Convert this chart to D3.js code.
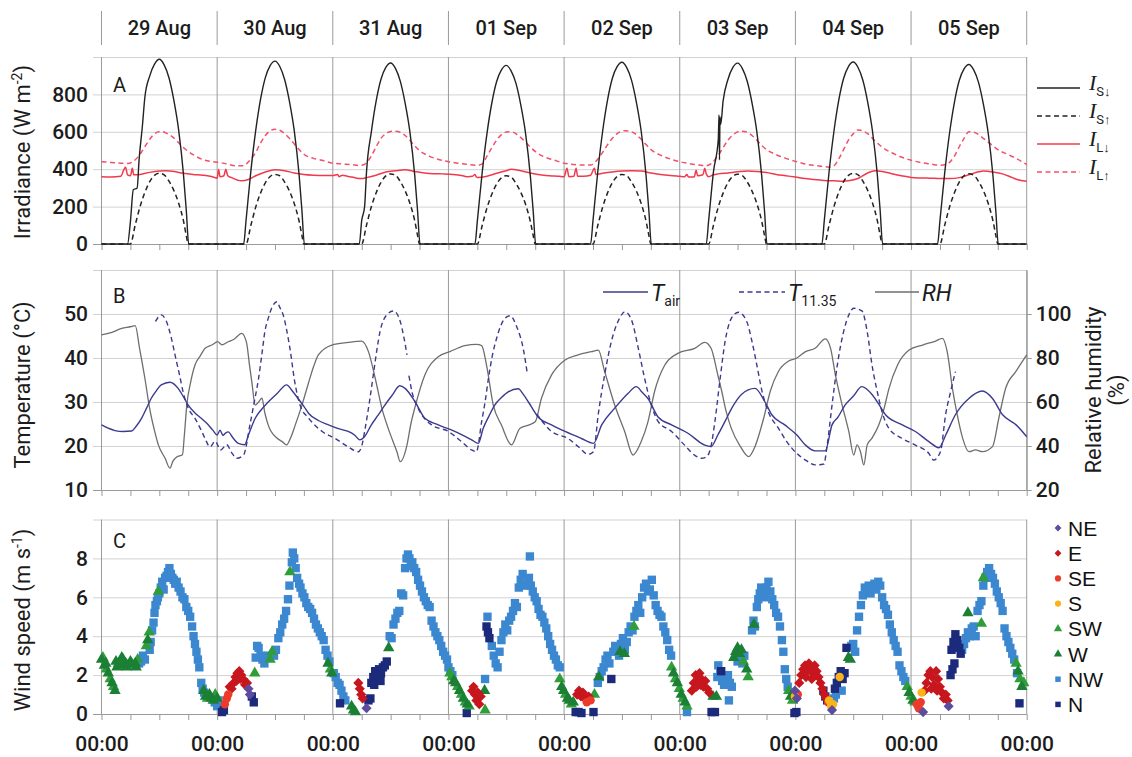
<!DOCTYPE html>
<html><head><meta charset="utf-8">
<script src="https://cdn.jsdelivr.net/npm/d3@7"></script>
<style>body{margin:0;background:#fff}svg{display:block}</style>
</head><body>
<svg id="chart" width="1132" height="757"></svg>
<script>
// ---------------- DATA ----------------
const dayLabels = ["29 Aug","30 Aug","31 Aug","01 Sep","02 Sep","03 Sep","04 Sep","05 Sep"];
const ticksA = [0,200,400,600,800];
const ticksB = [10,20,30,40,50];
const ticksRH = [20,40,60,80,100];
const ticksC = [0,2,4,6,8];

// hours since 29 Aug 00:00, W m-2
const isDown = [[0,0],[5.4,0],[6.0,120],[6.6,290],[7.4,300],[7.8,450],[8.5,635],[9,785],[10,898],[11,962],[12,988],[13,958],[14,889],[15,771],[16,612],[17,375],[17.6,178],[18.1,0],
[29.5,0],[30,127],[31,391],[32,606],[33,773],[34,890],[35,954],[36,978],[37,949],[38,880],[39,763],[40,606],[41,372],[41.6,176],[42.1,0],
[53.5,0],[54,126],[54.6,200],[55,387],[56,600],[57,765],[58,881],[59,944],[60,968],[61,939],[62,871],[63,755],[64,600],[65,368],[65.6,174],[66.1,0],
[77.5,0],[78,124],[79,382],[80,592],[81,754],[82,869],[83,931],[84,955],[85,926],[86,860],[87,745],[88,592],[89,363],[89.6,172],[90.1,0],
[101.5,0],[102,126],[103,389],[104,603],[105,768],[106,885],[107,948],[108,972],[109,943],[110,875],[111,758],[112,603],[113,369],[113.6,175],[114.1,0],
[125.5,0],[126,126],[127,387],[128,560],[128.15,690],[128.25,450],[128.35,680],[128.5,640],[129,765],[130,880],[131,943],[132,967],[133,938],[134,870],[135,754],[136,600],[137,367],[137.6,174],[138.1,0],
[149.5,0],[150,126],[151,389],[152,603],[153,769],[154,885],[155,949],[156,973],[157,944],[158,876],[159,759],[160,603],[161,370],[161.6,175],[162.1,0],
[173.5,0],[174,125],[175,384],[176,595],[177,758],[178,874],[179,936],[180,960],[181,931],[182,864],[183,749],[184,595],[185,365],[185.6,173],[186.1,0],[192,0]];

const isUp = [[0,0],[6,0],[7,102],[8,200],[9,276],[10,333],[11,367],[12,378],[13,370],[14,336],[15,287],[16,219],[17,125],[17.6,45],[18,0],
[30,0],[31,100],[32,197],[33,272],[34,327],[35,361],[36,372],[37,365],[38,331],[39,283],[40,216],[41,123],[41.6,45],[42,0],
[54,0],[55,101],[56,199],[57,274],[58,330],[59,364],[60,375],[61,368],[62,334],[63,285],[64,218],[65,124],[65.6,45],[66,0],
[78,0],[79,99],[80,193],[81,266],[82,321],[83,354],[84,365],[85,358],[86,325],[87,277],[88,212],[89,120],[89.6,44],[90,0],
[102,0],[103,100],[104,197],[105,272],[106,327],[107,361],[108,372],[109,365],[110,331],[111,283],[112,216],[113,123],[113.6,45],[114,0],
[126,0],[127,101],[128,198],[129,272],[130,328],[131,362],[132,373],[133,366],[134,332],[135,283],[136,216],[137,123],[137.6,45],[138,0],
[150,0],[151,102],[152,200],[153,276],[154,333],[155,367],[156,378],[157,370],[158,336],[159,287],[160,219],[161,125],[161.6,45],[162,0],
[174,0],[175,102],[176,199],[177,274],[178,331],[179,365],[180,376],[181,368],[182,335],[183,286],[184,218],[185,124],[185.6,45],[186,0],[192,0]];

const ilDown = [[0,360],[2,358],[4,362],[4.6,395],[5,410],[5.4,370],[6,365],[6.4,405],[6.7,370],[8,372],[10,383],[12,390],[13.5,392],[15,388],[17,378],[19,372],[21,368],[23,360],[24,352],[24.3,398],[24.6,360],[25.4,365],[25.8,400],[26.2,365],[27,355],[29,338],[30.5,345],[32,365],[34,385],[36,397],[38,392],[40,380],[42,372],[44,368],[46,366],[48,366],[49,372],[49.3,360],[50,368],[51,362],[52,358],[53,352],[54,350],[55,355],[57,368],[59,385],[61,392],[63,397],[65,388],[67,380],[69,376],[71,375],[73,372],[75,365],[76,360],[77,362],[77.5,372],[77.8,358],[78,355],[80,362],[82,378],[84,392],[85,400],[87,392],[89,380],[91,370],[93,365],[95,362],[96,360],[96.6,405],[97,360],[98,362],[98.5,405],[98.8,362],[100,362],[101.5,368],[102.3,405],[102.6,372],[104,378],[106,385],[108,390],[110,392],[112,390],[114,380],[116,372],[118,366],[120,362],[121,360],[121.5,372],[121.8,358],[123,358],[123.4,395],[123.7,365],[124.8,370],[125.2,405],[125.5,375],[126,360],[127,370],[128,375],[130,380],[132,386],[134,390],[136,388],[138,382],[140,372],[142,365],[144,358],[146,350],[148,345],[150,340],[152,338],[154,336],[155,338],[157,350],[159,380],[160.5,392],[162,388],[164,376],[166,365],[168,356],[170,353],[172,352],[174,350],[176,350],[178,355],[180,370],[182,386],[183,390],[185,385],[187,375],[189,355],[190,345],[192,335]];

const ilUp = [[0,440],[2,436],[4,432],[5.5,430],[6.5,440],[8,480],[9,520],[10,560],[11,590],[12,600],[12.7,600],[13.5,592],[14.6,576],[15.5,555],[16.7,523],[18,495],[19,478],[21,452],[22.5,442],[24.5,436],[26,428],[28,418],[29.5,418],[30.5,440],[32,490],[33,540],[34,580],[35,605],[36,613],[37,608],[38,590],[39,565],[40,535],[41,505],[42,480],[44,458],[46,446],[48,432],[50,428],[52,424],[53.5,420],[54.5,425],[56,470],[57,520],[58,565],[59,590],[60.5,603],[62,598],[63,580],[64,555],[65,525],[66,500],[68,470],[70,452],[72,440],[74,432],[76,426],[78,421],[79,428],[80,470],[81,515],[82,555],[83,585],[84.4,600],[85.5,597],[86.5,580],[88,545],[89,518],[90,495],[92,465],[94,448],[96,432],[98,425],[100,422],[101.5,422],[102.5,440],[104,490],[105,530],[106,565],[107,590],[108.7,606],[110,600],[111,585],[112,560],[113,532],[114,505],[116,475],[118,455],[120,440],[122,430],[124,422],[125.3,418],[126.5,430],[128,475],[129,515],[130,555],[131,582],[132.6,603],[134,598],[135,580],[136,555],[137,528],[138,505],[140,478],[142,458],[144,442],[146,428],[148,420],[150,414],[151,411],[152,418],[153,455],[154,505],[155,555],[156,590],[157,610],[158,605],[159,590],[160,565],[161,540],[162,518],[164,488],[166,465],[168,448],[170,436],[172,428],[174,421],[175.5,428],[177,470],[178,520],[179,565],[180,600],[181,598],[182,585],[183,565],[184,545],[185,525],[186,505],[188,480],[190,455],[192,425]];

// degC
const tAir = [[0,24.8],[1.5,24],[2.8,23.5],[4.5,23.3],[6.2,23.4],[7.2,24.5],[8.3,26.3],[9.3,28.5],[10.3,30.8],[11.4,32.6],[12.4,33.9],[14.2,34.5],[15.9,33.1],[17,31.2],[18,29.3],[19.4,27.5],[20.7,26.3],[22,25],[23.1,23.6],[24,22.5],[24.6,23.6],[25.2,22.4],[25.8,23],[26.3,23.2],[27.3,21.8],[28.4,20.6],[29.7,20.3],[30.5,22.5],[31.9,26.3],[33.2,28.3],[34.6,30],[36.5,32],[38.4,33.9],[39.6,32.5],[40.8,30.8],[42,29],[43,27.4],[45,25.8],[47.1,24.8],[49,24],[51.2,23.3],[52.5,22.5],[53.6,21.4],[54.5,22],[56,24.8],[57.4,27],[58.8,29.3],[60.3,31.5],[61.9,33.7],[63,33.1],[65.1,30],[67.1,26.3],[69.9,24.8],[73.3,23.3],[76.8,21.4],[78.2,20.6],[79.2,24],[80.4,26.8],[81.6,29.3],[83,31],[84.4,32.3],[86.5,33],[87.5,31.8],[88.6,30],[90.6,26.6],[93.4,24.8],[96.2,23.3],[99.6,21.7],[102.1,20.6],[103.8,24.8],[106.5,28.6],[109.3,32],[111,33.5],[112.2,32.2],[113.4,30.8],[115.5,26.6],[118.3,24.8],[121.7,22.9],[125.2,20.2],[126.5,19.9],[127.9,22.5],[129.4,25.6],[130.8,28.6],[132.8,31.7],[135.6,33.1],[137.7,30],[139.1,27.1],[141.8,24.8],[144.3,22.5],[146.1,20.2],[148.1,18.9],[150.2,18.9],[151.6,24.8],[152.8,26.5],[154.3,29.3],[156,31.3],[157.8,33.5],[159.9,31.7],[161.3,29.5],[162.7,27.1],[166.2,24.8],[168.9,23.3],[171.7,21],[173.8,19.6],[175.2,22.5],[177.2,27.1],[180,30.8],[182.8,32.5],[184.9,30.8],[187,27.1],[189.8,24.8],[192,22.1]];

// null marks a gap in the record
const t1135 = [[11.2,48.3],[12.4,49.8],[13.4,48.5],[14.5,44.5],[15.3,40.5],[16.2,36.1],[17,32],[18,28.6],[19.4,26.3],[20.5,24],[21.5,21.7],[22.5,19.8],[23.6,21.1],[24.7,19.1],[26,20.3],[27,18.5],[28.1,17.2],[29.5,18],[30.8,24.8],[31.7,30],[32.6,35.4],[33.3,41],[33.9,46],[34.6,49],[35.3,51.3],[36.4,52.8],[37,51.5],[37.7,49.8],[38.4,46.5],[39.1,42.2],[40.1,34.6],[41.2,29.3],[43,26.3],[45.8,23.3],[48.5,21.7],[51.2,19.8],[53.3,18.7],[54,20],[54.7,23.9],[55.6,30],[56.4,36.1],[57.1,41.5],[57.8,46],[59.2,49.8],[60.6,50.7],[62,48.3],[62.7,45],[63.4,40.7],
[63.6,null],
[63.8,36],[64.5,32],[65.7,28.6],[68.5,24.8],[72,23.3],[74.7,21],[76.8,19.1],[77.8,18.7],[78.9,25.6],[79.6,30],[80.3,35.4],[81.1,40.5],[82,44.5],[83.7,49],[84.8,49.6],[86.2,47],[87.6,41.7],[88.3,36.9],
[89.3,null],
[90.3,27.3],[93.4,23.3],[96.8,21.7],[98.9,19.9],[101,18.1],[102.1,18.7],[103.1,27.3],[104.4,36.1],[105.8,43.7],[107.5,49],[108.6,50.5],[110,48.6],[111.4,42.2],[112.7,35.4],[114.1,29.3],[115.5,25.6],[118.3,23.3],[121,20.2],[123.1,17.9],[124.5,17.2],[125.5,17.5],[126.5,20],[127.3,25.6],[128.3,34.6],[129.4,43.7],[130.7,49],[132.2,50.4],[133.9,48.3],[135,43.7],[136,38.4],[137.1,32.3],[138.4,27.7],[140.5,24],[142.2,21],[144.3,18.3],[146.1,16.8],[148.1,15.7],[149.9,15.9],[150.6,20.2],[151.6,29.3],[152.7,38.4],[154,46],[155.1,49.8],[156.1,51.3],[157.8,50.7],[158.9,46],[159.9,38.4],[161,32.3],[162,27.7],[163.4,24],[166.2,21.7],[168.9,20.2],[171.7,18.3],[172.7,16.8],[174.1,18.7],[175.2,27.3],[176.2,32.3],[177.2,36.9]];

// %
const rh = [[0,90.5],[2,91.5],[4.2,93.5],[6,94.2],[7,94.7],[7.9,84.4],[9,70.8],[10,57],[11,47],[11.8,40.5],[13.2,34.4],[14.2,29.9],[14.8,33],[15.6,35],[16.8,36],[17.2,45],[17.7,58.6],[18.5,69],[19.4,76.8],[20.5,81],[21.5,84.4],[23,86],[24.1,87.4],[25,86],[26.3,87.4],[27.5,88.5],[29.1,91.2],[30.1,87],[30.7,77],[31.2,69],[31.9,58.6],[32.6,60],[33.3,61.7],[33.9,55],[34.6,49.5],[36.4,43.6],[37.5,42],[38.4,40.5],[39.3,44],[40.2,49.5],[41.6,58.6],[43,69],[44,76],[45,81.4],[47.8,85.9],[51.2,87.1],[54,87.7],[55.4,82.9],[56.8,70.8],[58.2,57],[59.5,48],[61.3,37.4],[62,32.9],[63.4,40.5],[64.2,50],[65.1,58],[67.1,72.3],[69.9,80.6],[72.3,82.9],[75.4,85.6],[77.8,86.2],[78.9,85.6],[79.9,76.8],[81.3,58.6],[83,49.5],[85.1,40.5],[86.8,48],[88.6,49.5],[90,51],[91.3,61.7],[93.4,72.3],[96.2,79.1],[98.9,81.4],[101.7,82.9],[103.1,83.6],[104.4,74],[106.5,58.6],[108.6,46.4],[110.3,35.9],[112,42],[113.4,51],[114.8,65],[116.9,76.8],[119.6,82.1],[123.1,84.4],[125.2,87.1],[126.5,84.4],[127.9,72.3],[128.7,65],[129.6,56],[130.7,48],[132.6,39.7],[134.3,35.2],[135.6,39.7],[137.4,52.5],[138.8,65],[140.5,74],[142.6,78.6],[144.3,80],[146.1,82.9],[148.1,84.4],[150.2,88.7],[151.3,84.4],[152.3,72.3],[153.7,58.6],[155.1,46.4],[156.1,35.9],[156.8,40.5],[157.5,37.4],[158.2,31.4],[158.9,40.5],[159.9,43.6],[161.3,49.5],[162.4,57],[163.4,66],[165.2,76.8],[167.6,83.6],[170.4,85.9],[173.1,87.7],[174.5,88.9],[175.5,82.9],[176.6,66],[177.6,54],[178.7,43.6],[180,37.4],[181.4,38.2],[182.8,37.4],[184.9,39.7],[186.2,52.5],[187.6,66],[189.8,74],[192,81.4]];

// wind speed (m s-1) by direction: [hour, speed]
const windNE = [[30.5,1.3],[30.8,1.0],[55.0,0.3],[143.9,1.2],[144.3,0.8],[151.6,0.2],[170.5,0.1],[175.8,0.4]];
const windE = [[26.6,1.4],[27.0,1.3],[27.4,1.6],[27.8,1.9],[28.2,2.1],[28.6,2.2],[29.0,2.0],[29.4,1.8],[29.8,1.5],[30.2,1.6],[28.0,1.7],[28.8,1.8],[53.3,1.6],[53.6,1.3],[53.9,1.0],[54.2,0.8],[76.9,1.2],[77.2,1.4],[77.5,1.0],[77.8,0.7],[78.1,1.1],[78.4,0.5],[78.7,0.9],[98.7,1.0],[99.1,1.2],[99.5,0.9],[99.9,1.1],[100.3,0.8],[101.1,0.9],[122.5,1.2],[122.9,1.6],[123.3,2.0],[123.7,1.7],[124.1,2.1],[124.5,1.8],[124.9,1.4],[125.3,1.7],[125.7,1.3],[126.1,1.1],[123.5,1.4],[124.3,1.5],[144.8,1.6],[145.2,2.0],[145.6,2.3],[146.0,2.5],[146.4,2.2],[146.8,2.6],[147.2,2.4],[147.6,2.1],[148.0,2.5],[148.4,2.2],[148.8,1.9],[149.2,1.6],[149.6,1.3],[150.0,1.0],[150.4,0.8],[146.2,1.9],[147.4,1.8],[170.8,1.2],[171.2,1.6],[171.6,2.0],[172.0,2.2],[172.4,1.9],[172.8,1.5],[173.2,2.2],[173.6,1.8],[174.0,1.4],[174.4,1.1],[174.8,0.8],[175.2,1.0],[175.6,0.7],[172.2,1.3],[173.4,1.2]];
const windSE = [[25.6,0.5],[26.0,0.8],[26.3,1.0],[100.7,0.6],[101.5,0.7],[144.5,1.0],[150.8,0.6],[169.2,0.5],[169.6,0.3],[170.0,0.6]];
const windS = [[143.9,0.9],[151.0,0.7],[151.4,0.4],[151.8,0.5],[153.2,1.9],[170.2,1.1]];
const windSW = [[0.3,2.9],[1.0,2.3],[1.8,1.8],[2.5,1.4],[3.5,2.6],[4.5,2.8],[5.5,2.5],[6.5,2.5],[7.5,2.8],[9.3,3.5],[9.9,4.2],[11.8,6.3],[22.0,0.8],[23.6,1.0],[31.8,2.1],[35.0,2.8],[35.4,3.2],[39.1,7.3],[47.5,2.3],[72.3,2.1],[72.7,1.9],[73.9,1.4],[74.7,1.0],[75.5,0.6],[76.3,0.4],[79.6,0.2],[95.1,1.8],[96.3,1.0],[97.5,0.5],[102.3,1.0],[110.5,4.5],[118.3,2.4],[119.1,1.8],[119.9,1.3],[120.7,0.8],[121.5,0.4],[133.2,2.7],[134.2,1.9],[142.6,1.2],[143.4,0.7],[167.2,1.4],[168.0,0.9],[168.8,0.6],[182.6,4.65],[183.0,7.0],[189.8,2.6],[190.6,1.8],[191.4,1.6]];
const windW = [[0,2.8],[0.6,2.5],[0.9,2.6],[1.4,2.1],[2.2,1.6],[2.8,1.2],[3.0,2.7],[3.2,2.4],[4.0,2.5],[4.2,2.9],[5.0,2.6],[5.2,2.4],[6.0,2.7],[6.2,2.6],[7.0,2.6],[7.2,2.4],[9.6,3.8],[21.2,1.2],[21.6,0.9],[22.4,1.0],[22.8,0.8],[23.2,0.7],[24.0,0.8],[47.0,2.6],[47.8,2.1],[51.9,0.4],[52.3,0.2],[52.7,0.1],[59.6,3.4],[73.1,1.7],[73.5,1.6],[74.3,1.2],[75.1,0.8],[75.9,0.5],[79.5,1.2],[95.5,1.4],[95.9,1.2],[96.7,0.8],[97.1,0.7],[97.9,0.6],[103.2,1.9],[107.6,3.2],[108.5,3.1],[118.7,2.1],[119.5,1.6],[120.3,1.0],[121.1,0.6],[126.9,0.9],[127.6,0.9],[131.2,2.9],[131.6,3.2],[132.0,3.4],[132.4,3.1],[132.8,3.3],[133.9,2.3],[135.4,4.6],[143.0,0.9],[155.0,2.9],[155.4,2.8],[167.6,1.1],[168.4,0.7],[179.8,5.2],[190.2,2.2],[191.0,1.4]];
const windNW = [[7.8,2.6],[8.2,2.7],[8.6,3.0],[9.0,2.8],[10.0,3.3],[10.2,3.7],[10.5,4.3],[10.8,4.7],[11.0,5.2],[11.2,5.6],[11.5,5.8],[11.7,6.0],[12.0,6.2],[12.3,6.5],[12.6,6.8],[12.9,6.4],[13.2,7.0],[13.5,7.1],[13.8,7.3],[14.1,7.5],[14.4,7.2],[14.7,7.0],[15.0,6.9],[15.3,6.7],[15.6,6.8],[16.0,6.5],[16.4,6.3],[16.8,6.0],[17.2,5.9],[17.6,5.5],[18.0,5.3],[18.4,5.0],[18.8,4.5],[19.1,4.0],[19.4,3.6],[19.7,3.2],[20.0,2.8],[20.3,2.4],[20.7,1.6],[21.0,1.3],[21.3,1.1],[23.5,0.6],[24.0,0.4],[24.3,0.7],
[32.0,2.9],[32.3,3.5],[32.6,3.4],[33.0,3.0],[33.4,2.8],[33.8,2.6],[34.2,2.9],[34.6,3.0],[35.8,3.0],[36.2,3.3],[36.7,3.9],[37.1,4.2],[37.5,4.6],[37.9,4.9],[38.3,5.3],[38.7,5.9],[39.0,6.6],[39.5,7.8],[39.7,8.3],[40.0,8.0],[40.3,7.5],[40.6,7.0],[41.0,6.7],[41.3,6.5],[41.7,6.2],[42.1,6.0],[42.5,5.7],[42.9,5.5],[43.3,5.4],[43.7,5.2],[44.1,4.9],[44.5,4.6],[44.9,4.4],[45.3,4.2],[45.7,4.0],[46.1,3.8],[46.5,3.3],[46.9,3.0],[47.3,2.7],[48.2,2.1],[48.6,1.9],[49.0,1.6],[49.4,1.5],[49.8,1.2],[50.2,0.9],[50.6,0.7],
[59.8,4.0],[60.2,3.9],[60.6,4.6],[61.0,4.9],[61.4,5.2],[61.8,5.3],[62.2,6.2],[62.6,6.1],[63.0,7.5],[63.3,8.0],[63.6,8.2],[63.9,8.0],[64.2,7.6],[64.5,7.8],[64.9,7.5],[65.3,7.3],[65.7,6.9],[66.1,6.6],[66.5,6.3],[66.9,6.0],[67.3,5.8],[67.7,5.6],[68.1,5.5],[68.5,4.8],[68.9,4.5],[69.3,4.2],[69.7,4.0],[70.1,3.8],[70.5,3.5],[70.9,3.2],[71.3,3.0],[71.7,2.8],[72.0,2.4],[72.4,2.2],[72.8,2.0],[79.6,1.8],
[80.1,5.0],[81.0,3.5],[81.4,3.0],[81.8,2.6],[82.2,2.4],[82.6,3.2],[83.0,3.8],[83.4,4.2],[83.8,4.6],[84.2,4.3],[84.6,4.8],[85.0,5.0],[85.4,5.3],[85.8,5.7],[86.2,5.5],[86.6,6.5],[87.0,6.9],[87.4,7.2],[87.8,6.6],[88.9,8.1],[88.7,7.0],[89.1,6.6],[89.5,6.3],[89.9,6.0],[90.3,5.8],[90.7,5.4],[91.1,5.1],[91.5,5.0],[91.9,4.7],[92.3,4.4],[92.7,4.0],[93.1,3.6],[93.5,3.3],[93.9,3.0],[94.3,2.8],[94.7,2.5],[95.1,2.4],
[103.0,1.6],[103.4,1.9],[103.8,2.2],[104.2,2.4],[104.6,2.8],[105.0,3.0],[105.4,2.6],[106.2,3.2],[106.6,3.5],[107.0,3.4],[107.4,3.0],[107.8,3.6],[108.2,3.9],[108.6,3.3],[109.0,3.7],[109.4,4.2],[109.8,4.5],[110.2,4.3],[110.6,5.0],[111.0,5.3],[111.4,5.6],[111.8,5.2],[112.2,6.0],[112.6,6.5],[113.0,6.7],[113.4,6.3],[113.8,6.4],[114.2,6.9],[114.6,6.1],[115.0,5.6],[115.4,5.3],[115.8,5.1],[116.2,5.0],[116.6,4.5],[117.0,4.2],[117.4,3.8],[117.8,3.3],[118.2,3.0],[121.5,0.1],
[127.8,1.9],[128.0,2.5],[128.4,2.1],[128.8,1.7],[129.2,1.5],[129.6,1.8],[130.0,2.0],[130.2,0.7],[130.4,1.6],[130.8,1.4],[132.0,2.7],[132.5,2.9],[133.0,2.6],[133.4,3.0],[135.0,4.3],[135.3,4.8],[135.6,4.5],[136.0,5.5],[136.3,5.9],[136.6,6.2],[136.9,6.5],[137.2,6.3],[137.6,6.0],[138.0,6.5],[138.4,6.8],[138.8,6.3],[139.2,5.9],[139.6,5.6],[140.0,5.2],[140.4,5.0],[140.8,4.5],[141.2,3.8],[141.5,3.2],[141.8,2.3],[142.1,1.8],[142.4,1.4],
[152.0,0.8],[152.4,1.0],[153.6,1.2],[155.6,3.5],[156.0,3.6],[156.4,3.2],[156.8,4.3],[157.2,5.0],[157.6,5.6],[158.0,6.1],[158.4,6.5],[158.8,6.3],[159.2,6.6],[159.6,6.2],[160.0,6.5],[160.4,6.7],[160.8,6.4],[161.2,6.8],[161.6,6.6],[162.0,6.0],[162.4,5.6],[162.8,5.4],[163.2,5.1],[163.6,4.6],[164.0,4.2],[164.4,3.8],[164.8,3.5],[165.2,3.2],[165.6,2.5],[166.0,2.2],[166.4,1.9],[166.8,1.7],
[178.6,3.3],[179.0,3.6],[179.4,3.9],[179.8,4.2],[180.2,4.0],[180.6,4.4],[181.0,4.5],[181.4,4.0],[181.8,5.3],[182.2,5.6],[182.6,5.8],[183.0,6.6],[183.4,7.0],[183.8,7.3],[184.2,7.5],[184.6,7.2],[185.0,7.0],[185.4,6.7],[185.8,6.3],[186.2,6.0],[186.6,5.7],[187.0,5.3],[187.4,4.4],[187.8,4.0],[188.2,3.7],[188.6,3.4],[189.0,3.1],[189.4,2.8],[190.0,2.1]];
const windN = [[25.0,0.1],[25.4,0.2],[31.2,0.9],[31.6,0.6],[49.5,0.55],[55.4,0.7],[55.8,0.8],[56.0,1.6],[56.4,1.9],[56.8,2.2],[57.2,2.0],[57.6,2.3],[58.0,2.1],[58.4,2.4],[58.8,2.5],[59.2,2.7],[56.6,1.5],[57.9,1.7],[75.8,0.05],[79.9,4.5],[80.2,4.2],[80.5,3.9],[98.4,0.1],[99.0,0.1],[99.6,0.05],[102.1,0.1],[105.8,1.8],[126.6,0.1],[127.3,0.1],[128.6,2.2],[143.8,0.05],[144.2,0.1],[149.8,1.2],[150.2,0.9],[150.6,0.7],[152.2,1.3],[152.6,1.6],[153.0,1.9],[153.4,2.2],[153.8,1.8],[154.2,2.1],[154.6,3.4],[176.2,2.0],[176.6,2.3],[177.0,2.6],[176.4,3.3],[176.8,3.7],[177.2,4.1],[177.6,3.8],[178.0,3.4],[178.3,3.1],[190.5,0.55]];

// ---------------- DRAW ----------------
const svg = d3.select("#chart");
const FONT = "Roboto, 'Liberation Sans', sans-serif";
const TXT = "#1c1c1c";
const X0 = 101.5, X1 = 1026.7, XL = 93;
const x = d3.scaleLinear().domain([0,192]).range([X0,X1]);
const yA = d3.scaleLinear().domain([0,1000]).range([244,57]);
const yB = d3.scaleLinear().domain([10,60]).range([490,270]);
const yRH = d3.scaleLinear().domain([20,120]).range([490,270]);
const yC = d3.scaleLinear().domain([0,10]).range([714,519.5]);

function styleText(sel, fs) {
  sel.attr("font-family",FONT).attr("font-size",fs).attr("font-weight",500).attr("fill",TXT);
}

function panelFrame(y, ticks, top) {
  const vals = ticks.concat([top]);
  const ax = d3.axisLeft(y).tickValues(vals).tickSize(-(X1-XL)).tickPadding(5)
    .tickFormat(d => d === top ? "" : d);
  const g = svg.append("g").attr("transform",`translate(${XL},0)`).call(ax);
  g.select(".domain").remove();
  g.selectAll(".tick line").attr("stroke", d => d === ticks[0] ? "#9a9a9a" : "#d2d2d2").attr("stroke-width",1);
  styleText(g.selectAll(".tick text"), 21);
  const [b, t] = y.range();
  svg.append("g").selectAll("line").data(d3.range(0,9)).join("line")
    .attr("x1",d=>x(d*24)).attr("x2",d=>x(d*24)).attr("y1",t).attr("y2",b)
    .attr("stroke","#9a9a9a").attr("stroke-width",1);
  const bx = d3.axisBottom(x).tickValues(d3.range(0,193,6)).tickSize(6).tickFormat("");
  const gb = svg.append("g").attr("transform",`translate(0,${b})`).call(bx);
  gb.select(".domain").remove();
  gb.selectAll(".tick line").attr("stroke","#9a9a9a");
}

// header
svg.append("g").selectAll("line").data(d3.range(0,9)).join("line")
  .attr("x1",d=>x(d*24)).attr("x2",d=>x(d*24)).attr("y1",11).attr("y2",45)
  .attr("stroke","#9a9a9a");
styleText(svg.append("g").selectAll("text").data(dayLabels).join("text")
  .attr("x",(d,i)=>x(i*24+12)).attr("y",35).attr("text-anchor","middle").text(d=>d), 20);

panelFrame(yA, ticksA, 1000);
panelFrame(yB, ticksB, 60);
panelFrame(yC, ticksC, 10);

// right axis for RH
const rax = d3.axisRight(yRH).tickValues(ticksRH).tickSize(5).tickSizeOuter(0).tickPadding(4);
const gr = svg.append("g").attr("transform",`translate(${X1},0)`).call(rax);
gr.select(".domain").attr("stroke","#9a9a9a");
gr.selectAll(".tick line").attr("stroke","#9a9a9a");
styleText(gr.selectAll(".tick text"), 21);

// bottom labels
const lab = d3.axisBottom(x).tickValues(d3.range(0,193,24)).tickSize(0).tickPadding(22).tickFormat(()=>"00:00");
const gl = svg.append("g").attr("transform",`translate(0,${yC(0)})`).call(lab);
gl.select(".domain").remove();
styleText(gl.selectAll(".tick text"), 21);

// panel letters
[["A",92],["B",303],["C",548]].forEach(([t,yy])=>{
  svg.append("text").attr("x",113).attr("y",yy).attr("font-family",FONT).attr("font-size",20).attr("fill",TXT).text(t);
});

// axis titles
function vtitle(cx, cy, parts) {
  const t = svg.append("text").attr("transform",`translate(${cx},${cy}) rotate(-90)`)
    .attr("text-anchor","middle").attr("font-family",FONT).attr("font-size",22).attr("fill",TXT);
  parts.forEach(p => {
    const s = t.append("tspan").text(p.t);
    if (p.dy) s.attr("dy",p.dy);
    if (p.fs) s.attr("font-size",p.fs);
  });
}
vtitle(30,152,[{t:"Irradiance (W m"},{t:"-2",dy:-8,fs:14},{t:")",dy:8}]);
vtitle(30,385,[{t:"Temperature (°C)"}]);
vtitle(30,620,[{t:"Wind speed (m s"},{t:"-1",dy:-8,fs:14},{t:")",dy:8}]);
vtitle(1101,390,[{t:"Relative humidity"}]);
vtitle(1124,390,[{t:"(%)"}]);

// ---- lines ----
const lineA = d3.line().x(d=>x(d[0])).y(d=>yA(d[1])).curve(d3.curveMonotoneX);
const lineB = d3.line().defined(d=>d[1]!=null).x(d=>x(d[0])).y(d=>yB(d[1])).curve(d3.curveMonotoneX);
const lineRH = d3.line().x(d=>x(d[0])).y(d=>yRH(d[1])).curve(d3.curveMonotoneX);

const RED = "#f03a4c", RED2 = "#f2506a", NAVY = "#3b3a8f", GREY = "#6e6e6e", BLK = "#222";
function path(data, gen, color, dash, w) {
  svg.append("path").datum(data).attr("d",gen).attr("fill","none").attr("stroke",color)
    .attr("stroke-width",w||1.4).attr("stroke-dasharray",dash||null).attr("stroke-linejoin","round");
}
path(ilUp, lineA, RED2, "5,3.5", 1.5);
path(ilDown, lineA, RED, null, 1.5);
path(isUp, lineA, BLK, "5,3.5", 1.5);
path(isDown, lineA, BLK, null, 1.4);

path(rh, lineRH, GREY, null, 1.3);
path(t1135, lineB, NAVY, "5,3.5", 1.4);
path(tAir, lineB, NAVY, null, 1.4);

// ---- legend A ----
const legA = [
  {s:"S↓", c:BLK, d:null},{s:"S↑", c:BLK, d:"5,3.5"},{s:"L↓", c:RED, d:null},{s:"L↑", c:RED2, d:"5,3.5"}];
legA.forEach((L,i)=>{
  const yy = 88 + i*28;
  svg.append("line").attr("x1",1037).attr("x2",1080).attr("y1",yy).attr("y2",yy)
    .attr("stroke",L.c).attr("stroke-width",1.5).attr("stroke-dasharray",L.d);
  const t = svg.append("text").attr("x",1089).attr("y",yy+2).attr("fill",TXT);
  t.append("tspan").attr("font-family","'Liberation Serif', serif").attr("font-style","italic").attr("font-size",22).text("I");
  t.append("tspan").attr("font-family",FONT).attr("font-size",13).attr("dy",6).text(L.s);
});

// ---- legend B ----
const legB = [
  {x1:603,x2:648,c:NAVY,d:null,main:"T",sub:"air"},
  {x1:739,x2:785,c:NAVY,d:"5,3.5",main:"T",sub:"11.35"},
  {x1:875,x2:919,c:GREY,d:null,main:"RH",sub:""}];
legB.forEach(L=>{
  svg.append("line").attr("x1",L.x1).attr("x2",L.x2).attr("y1",292).attr("y2",292)
    .attr("stroke",L.c).attr("stroke-width",1.4).attr("stroke-dasharray",L.d);
  const t = svg.append("text").attr("x",L.x2+3).attr("y",301).attr("fill",TXT).attr("font-family",FONT);
  t.append("tspan").attr("font-style","italic").attr("font-size",23).text(L.main);
  if (L.sub) t.append("tspan").attr("font-size",14).attr("dy",5).text(L.sub);
});

// ---- scatter ----
const windSeries = [
  {name:"NE", data:windNE, color:"#5d4b9e", sym:d3.symbolDiamond2, size:66},
  {name:"E",  data:windE,  color:"#c7161e", sym:d3.symbolDiamond2, size:66},
  {name:"SE", data:windSE, color:"#ec3b2b", sym:d3.symbolCircle,  size:56},
  {name:"S",  data:windS,  color:"#fbb418", sym:d3.symbolCircle,  size:56},
  {name:"SW", data:windSW, color:"#2f9e3a", sym:d3.symbolTriangle,size:56},
  {name:"W",  data:windW,  color:"#1b7f34", sym:d3.symbolTriangle,size:56},
  {name:"NW", data:windNW, color:"#3b88d0", sym:d3.symbolSquare,  size:70},
  {name:"N",  data:windN,  color:"#1c2a7c", sym:d3.symbolSquare,  size:70}];
const drawOrder = ["NW","N","SW","W","E","SE","S","NE"];
drawOrder.forEach(n=>{
  const S = windSeries.find(s=>s.name===n);
  svg.append("g").selectAll("path").data(S.data).join("path")
    .attr("transform",d=>`translate(${x(d[0])},${yC(d[1])})`)
    .attr("d",d3.symbol().type(S.sym).size(S.size)).attr("fill",S.color);
});
windSeries.forEach((S,i)=>{
  const yy = 528 + i*25.2;
  svg.append("path").attr("transform",`translate(1058,${yy})`).attr("d",d3.symbol().type(S.sym).size(30)).attr("fill",S.color);
  svg.append("text").attr("x",1068).attr("y",yy+7.5).attr("font-family","'Liberation Sans', Arial, sans-serif")
    .attr("font-size",21).attr("fill","#111").text(S.name);
});
</script>
</body></html>
